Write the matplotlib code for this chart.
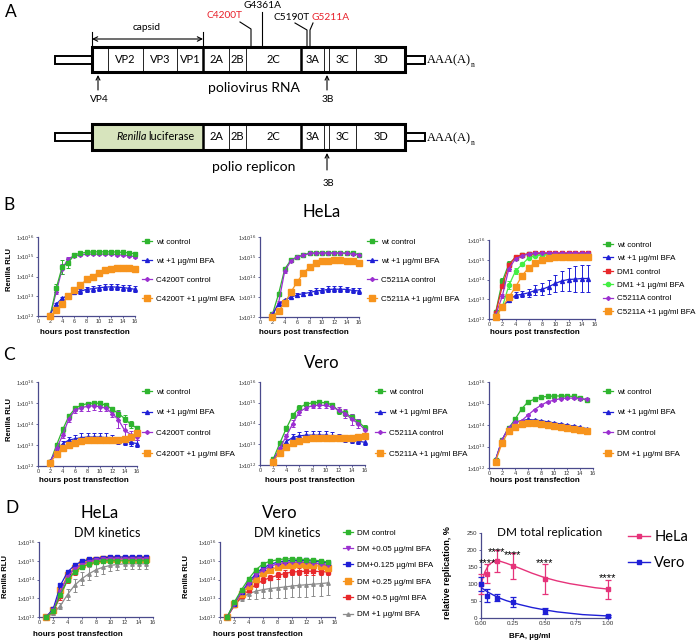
import numpy as np
import matplotlib.pyplot as plt
from matplotlib.patches import Rectangle
from matplotlib.lines import Line2D
from matplotlib.ticker import NullLocator

plt.rcParams['font.family'] = ['Liberation Sans', 'DejaVu Sans']
CAL = 'Lato'

W, H = 696, 640
fig = plt.figure(figsize=(W / 100, H / 100), dpi=100)

# ---------------- data ----------------
# genome map (panel A)
virus_names = ['', 'VP2', 'VP3', 'VP1', '2A', '2B', '2C', '3A', '', '3C', '3D']
replicon_names = ['Renilla luciferase', '2A', '2B', '2C', '3A', '', '3C', '3D']
mutations = ['C4200T', 'G4361A', 'C5190T', 'G5211A']
mutation_colors = ['#e8202a', 'black', 'black', '#e8202a']

# hours post transfection
hours_a = [2, 3, 4, 5, 6, 7, 8, 9, 10, 11, 12, 13, 14, 15, 16]
hours_b = [1, 2, 3, 4, 5, 6, 7, 8, 9, 10, 11, 12, 13, 14, 15]
rlu_ticks = [12, 13, 14, 15, 16]

# values are log10(Renilla RLU), errors in decades
b1_wt = [12.0, 13.4, 14.5, 14.7, 15.1, 15.18, 15.22, 15.25, 15.25, 15.25, 15.25, 15.24, 15.22, 15.2, 15.15]
b1_wt_err = [0.02, 0.2, 0.35, 0.25, 0.1, 0.08, 0.08, 0.08, 0.08, 0.08, 0.08, 0.08, 0.08, 0.08, 0.1]
b1_wt_bfa = [12.1, 12.6, 12.9, 13.05, 13.2, 13.25, 13.35, 13.38, 13.43, 13.46, 13.48, 13.46, 13.44, 13.4, 13.35]
b1_wt_bfa_err = [0.02, 0.05, 0.07, 0.08, 0.1, 0.12, 0.13, 0.14, 0.15, 0.16, 0.16, 0.15, 0.15, 0.15, 0.15]
b1_mut = [12.0, 13.2, 14.4, 14.9, 15.05, 15.08, 15.13, 15.13, 15.13, 15.13, 15.13, 15.1, 15.08, 15.05, 15.0]
b1_mut_err = [0.02, 0.1, 0.25, 0.1, 0.06, 0.05, 0.05, 0.05, 0.05, 0.05, 0.05, 0.05, 0.05, 0.05, 0.06]
b1_mut_bfa = [12.0, 12.3, 12.6, 13.0, 13.3, 13.55, 13.85, 14.0, 14.2, 14.33, 14.4, 14.45, 14.44, 14.42, 14.38]
b1_mut_bfa_err = [0.02, 0.05, 0.06, 0.08, 0.1, 0.12, 0.15, 0.15, 0.15, 0.13, 0.12, 0.1, 0.1, 0.1, 0.1]

b2_wt = [12.13, 13.15, 14.4, 14.85, 15.0, 15.1, 15.2, 15.2, 15.2, 15.2, 15.2, 15.2, 15.2, 15.18, 15.12]
b2_wt_err = [0.02, 0.05, 0.08, 0.05, 0.05, 0.04, 0.04, 0.04, 0.04, 0.04, 0.04, 0.04, 0.04, 0.04, 0.05]
b2_wt_bfa = [12.1, 12.65, 12.85, 13.0, 13.1, 13.17, 13.22, 13.3, 13.33, 13.38, 13.39, 13.39, 13.38, 13.33, 13.3]
b2_wt_bfa_err = [0.02, 0.04, 0.05, 0.06, 0.08, 0.1, 0.12, 0.13, 0.14, 0.15, 0.15, 0.15, 0.14, 0.13, 0.13]
b2_mut = [12.13, 12.7, 14.3, 14.8, 15.0, 15.08, 15.18, 15.2, 15.2, 15.2, 15.2, 15.2, 15.18, 15.15, 15.12]
b2_mut_err = [0.02, 0.1, 0.12, 0.05, 0.04, 0.04, 0.04, 0.04, 0.04, 0.04, 0.04, 0.04, 0.04, 0.04, 0.04]
b2_mut_bfa = [12.0, 12.3, 12.7, 13.25, 13.75, 14.2, 14.5, 14.7, 14.8, 14.82, 14.85, 14.85, 14.82, 14.8, 14.72]
b2_mut_bfa_err = [0.02, 0.04, 0.05, 0.05, 0.05, 0.05, 0.05, 0.05, 0.05, 0.05, 0.05, 0.05, 0.05, 0.05, 0.05]

b3_wt = [12.33, 13.9, 14.8, 15.1, 15.25, 15.28, 15.3, 15.3, 15.3, 15.3, 15.3, 15.3, 15.3, 15.3, 15.3]
b3_wt_err = [0.05, 0.2, 0.15, 0.08, 0.05, 0.04, 0.04, 0.04, 0.04, 0.04, 0.04, 0.04, 0.04, 0.04, 0.04]
b3_wt_bfa = [12.17, 12.64, 12.94, 13.2, 13.25, 13.33, 13.45, 13.5, 13.63, 13.8, 13.93, 14.0, 14.02, 14.05, 14.05]
b3_wt_bfa_err = [0.05, 0.08, 0.1, 0.15, 0.15, 0.2, 0.25, 0.3, 0.35, 0.45, 0.5, 0.6, 0.65, 0.7, 0.7]
b3_dm = [12.3, 13.65, 14.72, 15.15, 15.25, 15.3, 15.32, 15.32, 15.32, 15.32, 15.32, 15.32, 15.32, 15.32, 15.32]
b3_dm_err = [0.05, 0.1, 0.1, 0.05, 0.04, 0.04, 0.04, 0.04, 0.04, 0.04, 0.04, 0.04, 0.04, 0.04, 0.04]
b3_dm_bfa = [12.2, 12.6, 13.7, 14.43, 14.77, 15.1, 15.2, 15.25, 15.25, 15.25, 15.25, 15.25, 15.25, 15.25, 15.25]
b3_dm_bfa_err = [0.05, 0.1, 0.2, 0.15, 0.1, 0.06, 0.05, 0.05, 0.05, 0.05, 0.05, 0.05, 0.05, 0.05, 0.05]
b3_mut = [12.2, 13.15, 14.55, 15.05, 15.2, 15.3, 15.35, 15.35, 15.35, 15.35, 15.35, 15.35, 15.35, 15.35, 15.35]
b3_mut_err = [0.05, 0.1, 0.1, 0.05, 0.04, 0.04, 0.04, 0.04, 0.04, 0.04, 0.04, 0.04, 0.04, 0.04, 0.04]
b3_mut_bfa = [12.1, 12.6, 13.1, 13.62, 14.2, 14.6, 14.85, 15.0, 15.1, 15.15, 15.15, 15.15, 15.15, 15.15, 15.15]
b3_mut_bfa_err = [0.05, 0.06, 0.08, 0.1, 0.1, 0.1, 0.1, 0.1, 0.1, 0.1, 0.1, 0.1, 0.1, 0.1, 0.1]

c1_wt = [12.2, 13.0, 13.74, 14.38, 14.74, 14.9, 14.97, 15.0, 14.98, 14.9, 14.7, 14.5, 14.26, 13.98, 13.8]
c1_wt_err = [0.05, 0.08, 0.1, 0.1, 0.1, 0.1, 0.1, 0.1, 0.1, 0.1, 0.12, 0.15, 0.15, 0.15, 0.12]
c1_wt_bfa = [12.25, 12.72, 13.07, 13.23, 13.3, 13.35, 13.38, 13.38, 13.38, 13.35, 13.3, 13.23, 13.15, 13.12, 13.07]
c1_wt_bfa_err = [0.03, 0.08, 0.12, 0.15, 0.18, 0.2, 0.2, 0.2, 0.2, 0.2, 0.18, 0.16, 0.15, 0.15, 0.15]
c1_mut = [12.2, 12.84, 13.47, 14.26, 14.66, 14.78, 14.84, 14.87, 14.82, 14.75, 14.5, 14.2, 13.7, 13.5, 13.4]
c1_mut_err = [0.05, 0.08, 0.12, 0.15, 0.15, 0.15, 0.2, 0.2, 0.2, 0.15, 0.15, 0.4, 0.3, 0.15, 0.15]
c1_mut_bfa = [12.15, 12.57, 12.84, 13.0, 13.1, 13.18, 13.23, 13.23, 13.23, 13.23, 13.23, 13.25, 13.3, 13.4, 13.57]
c1_mut_bfa_err = [0.05, 0.05, 0.05, 0.06, 0.06, 0.06, 0.06, 0.06, 0.06, 0.06, 0.06, 0.06, 0.06, 0.06, 0.08]

c2_wt = [12.27, 13.04, 13.76, 14.4, 14.77, 14.93, 15.0, 15.02, 15.0, 14.9, 14.6, 14.5, 14.3, 14.08, 13.8]
c2_wt_err = [0.05, 0.08, 0.12, 0.12, 0.1, 0.08, 0.08, 0.08, 0.08, 0.08, 0.12, 0.15, 0.15, 0.12, 0.12]
c2_wt_bfa = [12.2, 12.75, 13.12, 13.33, 13.4, 13.44, 13.44, 13.44, 13.44, 13.4, 13.35, 13.28, 13.2, 13.15, 13.09]
c2_wt_bfa_err = [0.03, 0.08, 0.12, 0.15, 0.18, 0.2, 0.2, 0.2, 0.2, 0.18, 0.16, 0.15, 0.15, 0.15, 0.15]
c2_mut = [12.2, 12.8, 13.39, 14.0, 14.56, 14.75, 14.86, 14.88, 14.87, 14.8, 14.64, 14.48, 14.2, 14.0, 13.7]
c2_mut_err = [0.05, 0.08, 0.12, 0.15, 0.15, 0.12, 0.12, 0.12, 0.12, 0.12, 0.15, 0.2, 0.25, 0.2, 0.15]
c2_mut_bfa = [12.16, 12.6, 12.88, 13.04, 13.17, 13.26, 13.31, 13.31, 13.31, 13.31, 13.31, 13.32, 13.32, 13.35, 13.39]
c2_mut_bfa_err = [0.05, 0.05, 0.05, 0.06, 0.06, 0.06, 0.06, 0.06, 0.06, 0.06, 0.06, 0.06, 0.06, 0.06, 0.08]

c3_wt = [12.35, 13.3, 13.85, 14.26, 14.74, 15.08, 15.2, 15.3, 15.33, 15.35, 15.35, 15.34, 15.33, 15.26, 15.15]
c3_wt_err = [0.03, 0.03, 0.03, 0.04, 0.04, 0.04, 0.04, 0.04, 0.04, 0.04, 0.04, 0.04, 0.04, 0.04, 0.05]
c3_wt_bfa = [12.38, 13.3, 13.88, 14.1, 14.2, 14.26, 14.23, 14.2, 14.15, 14.1, 14.05, 14.0, 13.95, 13.9, 13.83]
c3_wt_bfa_err = [0.03, 0.03, 0.03, 0.03, 0.03, 0.03, 0.03, 0.03, 0.03, 0.03, 0.03, 0.03, 0.03, 0.03, 0.03]
c3_dm = [12.35, 13.3, 13.85, 14.15, 14.2, 14.46, 14.72, 14.92, 15.08, 15.15, 15.23, 15.25, 15.25, 15.23, 15.2]
c3_dm_err = [0.03, 0.03, 0.03, 0.04, 0.04, 0.04, 0.04, 0.04, 0.04, 0.04, 0.04, 0.04, 0.04, 0.04, 0.05]
c3_dm_bfa = [12.3, 13.15, 13.7, 13.92, 14.05, 14.1, 14.1, 14.05, 14.0, 13.96, 13.9, 13.86, 13.82, 13.78, 13.7]
c3_dm_bfa_err = [0.06, 0.05, 0.05, 0.05, 0.05, 0.05, 0.05, 0.05, 0.05, 0.05, 0.05, 0.05, 0.05, 0.05, 0.05]

d1_ctrl = [12.0, 12.3, 13.2, 13.95, 14.4, 14.66, 14.82, 14.92, 15.0, 15.0, 15.0, 15.0, 15.0, 15.0, 15.0]
d1_ctrl_err = [0.02, 0.05, 0.1, 0.1, 0.1, 0.1, 0.1, 0.1, 0.1, 0.1, 0.1, 0.1, 0.1, 0.1, 0.1]
d1_005 = [12.0, 12.35, 13.35, 14.15, 14.58, 14.8, 14.95, 15.03, 15.08, 15.1, 15.1, 15.1, 15.1, 15.1, 15.08]
d1_005_err = [0.02, 0.05, 0.1, 0.1, 0.08, 0.06, 0.06, 0.06, 0.06, 0.06, 0.06, 0.06, 0.06, 0.06, 0.06]
d1_0125 = [12.0, 12.44, 13.69, 14.4, 14.76, 14.97, 15.07, 15.12, 15.16, 15.2, 15.2, 15.2, 15.2, 15.2, 15.18]
d1_0125_err = [0.02, 0.05, 0.08, 0.08, 0.06, 0.05, 0.05, 0.05, 0.05, 0.05, 0.05, 0.05, 0.05, 0.05, 0.05]
d1_025 = [12.0, 12.4, 13.42, 14.22, 14.63, 14.84, 14.98, 15.05, 15.1, 15.12, 15.12, 15.12, 15.12, 15.12, 15.1]
d1_025_err = [0.02, 0.05, 0.1, 0.1, 0.08, 0.06, 0.06, 0.06, 0.06, 0.06, 0.06, 0.06, 0.06, 0.06, 0.06]
d1_05 = [12.0, 12.3, 13.1, 14.0, 14.4, 14.7, 14.88, 14.98, 15.05, 15.1, 15.1, 15.1, 15.1, 15.1, 15.08]
d1_05_err = [0.02, 0.08, 0.2, 0.2, 0.15, 0.12, 0.1, 0.1, 0.1, 0.1, 0.1, 0.1, 0.1, 0.1, 0.1]
d1_1 = [11.98, 12.2, 12.6, 13.2, 13.69, 14.04, 14.3, 14.52, 14.66, 14.75, 14.8, 14.84, 14.84, 14.84, 14.84]
d1_1_err = [0.05, 0.1, 0.15, 0.3, 0.35, 0.35, 0.35, 0.35, 0.35, 0.3, 0.3, 0.3, 0.3, 0.3, 0.3]

d2_ctrl = [12.0, 12.8, 13.46, 14.04, 14.52, 14.84, 14.98, 15.05, 15.1, 15.1, 15.08, 15.06, 15.03, 15.0, 14.93]
d2_ctrl_err = [0.02, 0.04, 0.05, 0.05, 0.05, 0.05, 0.05, 0.05, 0.05, 0.05, 0.05, 0.05, 0.05, 0.05, 0.05]
d2_005 = [12.0, 12.72, 13.33, 13.78, 14.22, 14.52, 14.7, 14.84, 14.9, 14.93, 14.93, 14.92, 14.88, 14.82, 14.76]
d2_005_err = [0.02, 0.04, 0.06, 0.08, 0.08, 0.08, 0.08, 0.08, 0.08, 0.08, 0.08, 0.08, 0.08, 0.08, 0.08]
d2_0125 = [12.0, 12.72, 13.33, 13.87, 14.31, 14.63, 14.8, 14.93, 14.98, 15.02, 15.02, 15.02, 14.98, 14.93, 14.88]
d2_0125_err = [0.02, 0.04, 0.06, 0.06, 0.06, 0.06, 0.06, 0.06, 0.06, 0.06, 0.06, 0.06, 0.06, 0.06, 0.06]
d2_025 = [12.0, 12.68, 13.24, 13.64, 14.04, 14.35, 14.52, 14.66, 14.76, 14.8, 14.82, 14.8, 14.76, 14.7, 14.63]
d2_025_err = [0.02, 0.05, 0.08, 0.1, 0.1, 0.1, 0.1, 0.1, 0.1, 0.1, 0.1, 0.1, 0.1, 0.1, 0.1]
d2_05 = [12.0, 12.62, 13.1, 13.42, 13.74, 13.96, 14.1, 14.22, 14.31, 14.4, 14.42, 14.44, 14.44, 14.42, 14.4]
d2_05_err = [0.02, 0.05, 0.1, 0.12, 0.15, 0.15, 0.15, 0.18, 0.18, 0.18, 0.18, 0.18, 0.18, 0.18, 0.18]
d2_1 = [12.0, 12.62, 13.03, 13.24, 13.38, 13.46, 13.52, 13.56, 13.6, 13.65, 13.69, 13.72, 13.75, 13.78, 13.82]
d2_1_err = [0.05, 0.1, 0.2, 0.3, 0.4, 0.45, 0.5, 0.55, 0.58, 0.6, 0.62, 0.63, 0.64, 0.65, 0.66]

# DM total replication (panel D, right)
bfa_dose = [0, 0.05, 0.125, 0.25, 0.5, 1.0]
hela_rep = [100, 130, 167, 152, 116, 85]
hela_rep_err = [28, 28, 33, 38, 44, 28]
vero_rep = [100, 66, 60, 48, 20, 6]
vero_rep_err = [20, 20, 10, 15, 8, 3]
fit_dose = [0, 0.03, 0.06, 0.1, 0.15, 0.2, 0.3, 0.4, 0.5, 0.6, 0.7, 0.8, 0.9, 1.0]
hela_fit = [100, 135, 156, 167, 167, 161, 147, 132, 119, 109, 101, 95, 89, 85]
vero_fit = [90, 82, 75, 67, 58, 51, 40, 31, 24, 18, 14, 10, 8, 6]
signif_dose = [0.05, 0.125, 0.25, 0.5, 1.0]
signif_level = [171, 203, 196, 171, 126]

# colours
GREEN = '#2fb52f'
BLUE = '#1f1fd6'
PURPLE = '#9b30d0'
ORANGE = '#f7941d'
RED = '#e8282b'
LGREEN = '#44ee44'
GRAY = '#8c8c8c'
PINK = '#e6337a'
AXC = '#4a4a8c'

# ---------------- drawing canvas for the diagram and labels ----------------
dax = fig.add_axes([0, 0, 1, 1])
dax.set_xlim(0, W)
dax.set_ylim(H, 0)
dax.axis('off')


def genome(top, bot, bounds, names, thick, fill=None):
    mid = (top + bot) / 2
    for x0, x1 in [(55, bounds[0]), (bounds[-1], 425)]:
        dax.add_patch(Rectangle((x0, mid - 4), x1 - x0, 8, fc='white', ec='black', lw=1.4, zorder=1))
    dax.add_patch(Rectangle((bounds[0], top), bounds[-1] - bounds[0], bot - top, fc='white', ec='none', zorder=2))
    if fill:
        dax.add_patch(Rectangle((bounds[0], top), bounds[1] - bounds[0], bot - top, fc=fill, ec='none', zorder=2))
    for b in bounds[1:-1]:
        dax.plot([b, b], [top, bot], color='black', lw=1.8 if b in thick else 0.6, zorder=3)
    dax.add_patch(Rectangle((bounds[0], top), bounds[-1] - bounds[0], bot - top, fc='none', ec='black', lw=2.2, zorder=4))
    for i, name in enumerate(names):
        cx = (bounds[i] + bounds[i + 1]) / 2
        if name == 'Renilla luciferase':
            dax.text(cx - 1, mid, 'Renilla', style='italic', family=CAL, fontsize=7.8, ha='right', va='center', zorder=5)
            dax.text(cx + 1, mid, 'luciferase', family=CAL, fontsize=7.8, ha='left', va='center', zorder=5)
        elif name:
            dax.text(cx, mid, name, family=CAL, fontsize=8, ha='center', va='center', zorder=5)
    t = dax.text(427, mid + 1, 'AAA(A)', family='Liberation Serif', fontsize=9, ha='left', va='center')
    dax.annotate('n', xy=(1.0, 0.12), xycoords=t, family='Liberation Serif', fontsize=5.5, ha='left', va='center')


genome(47, 72, [92, 108, 143, 177, 203, 229, 246, 301, 324, 329, 356, 405], virus_names, (203, 301))
genome(124, 150, [92, 203, 229, 246, 301, 324, 329, 356, 405], replicon_names, (203, 301), fill='#d7e4bd')

# capsid arrow
dax.annotate('', xy=(92, 39), xytext=(203, 39),
             arrowprops=dict(arrowstyle='<->', lw=0.8, shrinkA=0, shrinkB=0, mutation_scale=8))
dax.plot([92, 92], [32, 47], color='black', lw=0.8)
dax.plot([203, 203], [32, 47], color='black', lw=0.8)
dax.text(147, 28, 'capsid', family=CAL, fontsize=7.3, ha='center', va='center')

# small arrows under the map
for x, y0, y1, lab, ly, fs in [(98, 90, 75, 'VP4', 100, 7.3), (327, 90, 75, '3B', 100, 7.3),
                              (327, 170, 153, '3B', 183, 6.8)]:
    dax.annotate('', xy=(x, y1), xytext=(x, y0),
                 arrowprops=dict(arrowstyle='->', lw=0.8, shrinkA=0, shrinkB=0, mutation_scale=7))
    dax.text(x + 1, ly, lab, family=CAL, fontsize=fs, ha='center', va='center')

dax.text(254, 88, 'poliovirus RNA', family=CAL, fontsize=10, ha='center', va='center')
dax.text(254, 167, 'polio replicon', family=CAL, fontsize=10, ha='center', va='center')

# mutation labels
mut_text_xy = [(224, 16), (263, 6), (292, 18), (331, 18)]
mut_paths = [([240, 251, 251], [22, 29, 47]), ([262, 262], [12, 47]),
             ([295, 307, 307], [23, 30, 47]), ([313, 310, 310], [23, 30, 47])]
for name, col, (tx, ty), (px, py) in zip(mutations, mutation_colors, mut_text_xy, mut_paths):
    dax.text(tx, ty, name, family=CAL, fontsize=7.3, color=col, ha='center', va='center')
    dax.plot(px, py, color='black', lw=0.8)

# panel letters and titles
for lab, x, y in [('A', 5, 12), ('B', 3, 205), ('C', 3, 355), ('D', 5, 508)]:
    dax.text(x, y, lab, family=CAL, fontsize=12.5, ha='left', va='center')
for lab, x, y, fs in [('HeLa', 322, 212, 12), ('Vero', 322, 363, 12),
                      ('HeLa', 100, 513, 12), ('DM kinetics', 107, 533, 9),
                      ('Vero', 280, 513, 12), ('DM kinetics', 287, 533, 9)]:
    dax.text(x, y, lab, family=CAL, fontsize=fs, ha='center', va='center')


# ---------------- charts ----------------
def add_ax(box):
    x0, x1, y0, y1 = box
    return fig.add_axes([x0 / W, 1 - y1 / H, (x1 - x0) / W, (y1 - y0) / H])


def to_axes(box, px, py):
    x0, x1, y0, y1 = box
    return (px - x0) / (x1 - x0), (y1 - py) / (y1 - y0)


def style_axes(ax):
    for s in ('top', 'right'):
        ax.spines[s].set_visible(False)
    for s in ('left', 'bottom'):
        ax.spines[s].set_color(AXC)
        ax.spines[s].set_linewidth(0.9)
    ax.tick_params(length=1.5, width=0.6, color=AXC, labelsize=4, pad=1, labelcolor='#333333')


def legend(ax, series, x, ytop, spacing, fs=5.8, hl=1.3, family=None):
    handles = [Line2D([], [], color=s[3], marker=s[4], ms=s[5], lw=0.9) for s in series]
    leg = ax.legend(handles, [s[0] for s in series], loc='upper left',
                    bbox_to_anchor=(x / W, 1 - ytop / H), bbox_transform=fig.transFigure,
                    frameon=False, fontsize=fs, labelspacing=spacing, handlelength=hl,
                    handletextpad=0.4, borderpad=0, borderaxespad=0)
    if family:
        for t in leg.get_texts():
            t.set_family(family)


def kinetics(box, hours, series, xlab, ylab=None):
    ax = add_ax(box)
    for label, vals, errs, color, marker, ms in series:
        v = np.array(vals)
        e = np.array(errs)
        y = 10.0 ** v
        ax.errorbar(hours, y, yerr=[y - 10.0 ** (v - e), 10.0 ** (v + e) - y], color=color,
                    marker=marker, ms=ms, lw=0.9, elinewidth=0.7, capsize=1.3, capthick=0.7,
                    clip_on=False, zorder=3)
    ax.set_yscale('log')
    ax.set_ylim(1e12, 1e16)
    ax.set_yticks([10.0 ** k for k in rlu_ticks])
    ax.set_yticklabels(['1x10$^{%d}$' % k for k in rlu_ticks])
    ax.yaxis.set_minor_locator(NullLocator())
    ax.set_xlim(0, 16)
    ax.set_xticks([0, 2, 4, 6, 8, 10, 12, 14, 16])
    style_axes(ax)
    ax.set_xlabel('hours post transfection', fontsize=5.8, fontweight='bold')
    ax.xaxis.set_label_coords(*to_axes(box, *xlab))
    ax.xaxis.label.set_va('center')
    if ylab:
        ax.set_ylabel('Renilla RLU', fontsize=5.5, fontweight='bold')
        ax.yaxis.set_label_coords(*to_axes(box, *ylab))
        ax.yaxis.label.set_va('center')
    return ax


def std4(mut, wt, wt_bfa, m, m_bfa):
    return [('wt control', wt[0], wt[1], GREEN, 's', 2.5),
            ('wt +1 \u00b5g/ml BFA', wt_bfa[0], wt_bfa[1], BLUE, '^', 2.8),
            (mut + ' control', m[0], m[1], PURPLE, 'D', 2.0),
            (mut + ' +1 \u00b5g/ml BFA', m_bfa[0], m_bfa[1], ORANGE, 's', 3.8)]


# B
box = (38, 135, 237, 316)
s = std4('C4200T', (b1_wt, b1_wt_err), (b1_wt_bfa, b1_wt_bfa_err), (b1_mut, b1_mut_err), (b1_mut_bfa, b1_mut_bfa_err))
ax = kinetics(box, hours_a, [s[2], s[0], s[1], s[3]], (85, 332), (10, 270))
legend(ax, s, 142, 238, 1.42)

box = (260, 359, 237, 317)
s = std4('C5211A', (b2_wt, b2_wt_err), (b2_wt_bfa, b2_wt_bfa_err), (b2_mut, b2_mut_err), (b2_mut_bfa, b2_mut_bfa_err))
ax = kinetics(box, hours_a, [s[0], s[2], s[1], s[3]], (304, 332))
legend(ax, s, 367, 238, 1.42)

box = (489, 595, 240, 319)
s = [('wt control', b3_wt, b3_wt_err, GREEN, 's', 2.5),
     ('wt +1 \u00b5g/ml BFA', b3_wt_bfa, b3_wt_bfa_err, BLUE, '^', 2.8),
     ('DM1 control', b3_dm, b3_dm_err, RED, 's', 2.5),
     ('DM1 +1 \u00b5g/ml BFA', b3_dm_bfa, b3_dm_bfa_err, LGREEN, 'o', 3.0),
     ('C5211A control', b3_mut, b3_mut_err, PURPLE, 'D', 2.0),
     ('C5211A +1 \u00b5g/ml BFA', b3_mut_bfa, b3_mut_bfa_err, ORANGE, 's', 3.8)]
ax = kinetics(box, hours_b, s, (535, 332))
legend(ax, s, 603, 241, 0.72)

# C
box = (38, 137, 382, 466)
s = std4('C4200T', (c1_wt, c1_wt_err), (c1_wt_bfa, c1_wt_bfa_err), (c1_mut, c1_mut_err), (c1_mut_bfa, c1_mut_bfa_err))
ax = kinetics(box, hours_a, s, (84, 481), (10, 420))
legend(ax, s, 142, 388, 1.62)

box = (260, 365, 382, 465)
s = std4('C5211A', (c2_wt, c2_wt_err), (c2_wt_bfa, c2_wt_bfa_err), (c2_mut, c2_mut_err), (c2_mut_bfa, c2_mut_bfa_err))
ax = kinetics(box, hours_a, s, (310, 481))
legend(ax, s, 375, 388, 1.62)

box = (489, 593, 382, 468)
s = std4('DM', (c3_wt, c3_wt_err), (c3_wt_bfa, c3_wt_bfa_err), (c3_dm, c3_dm_err), (c3_dm_bfa, c3_dm_bfa_err))
ax = kinetics(box, hours_b, s, (535, 481))
legend(ax, s, 603, 388, 1.62)

# D kinetics
d_series_1 = [('DM control', d1_ctrl, d1_ctrl_err, GREEN, 's', 2.5),
              ('DM +0.05 \u00b5g/ml BFA', d1_005, d1_005_err, PURPLE, 'v', 2.8),
              ('DM+0.125 \u00b5g/ml BFA', d1_0125, d1_0125_err, BLUE, 's', 2.5),
              ('DM +0.25 \u00b5g/ml BFA', d1_025, d1_025_err, ORANGE, 's', 3.8),
              ('DM +0.5 \u00b5g/ml BFA', d1_05, d1_05_err, RED, 's', 2.8),
              ('DM +1 \u00b5g/ml BFA', d1_1, d1_1_err, GRAY, '^', 2.5)]
d_series_2 = [('DM control', d2_ctrl, d2_ctrl_err, GREEN, 's', 2.5),
              ('DM +0.05 \u00b5g/ml BFA', d2_005, d2_005_err, PURPLE, 'v', 2.8),
              ('DM+0.125 \u00b5g/ml BFA', d2_0125, d2_0125_err, BLUE, 's', 2.5),
              ('DM +0.25 \u00b5g/ml BFA', d2_025, d2_025_err, ORANGE, 's', 3.8),
              ('DM +0.5 \u00b5g/ml BFA', d2_05, d2_05_err, RED, 's', 2.8),
              ('DM +1 \u00b5g/ml BFA', d2_1, d2_1_err, GRAY, '^', 2.5)]
kinetics((39, 153, 542, 617), hours_b, d_series_1[::-1], (78, 635), (6, 577))
ax = kinetics((220, 335, 542, 617), hours_b, d_series_2[::-1], (258, 635), (187, 577))
legend(ax, d_series_2, 343, 529, 1.08)

# D total replication
box = (481, 608, 533, 618)
ax = add_ax(box)
ax.plot(fit_dose, hela_fit, color=PINK, lw=1.0)
ax.plot(fit_dose, vero_fit, color=BLUE, lw=1.0)
ax.errorbar(bfa_dose, hela_rep, yerr=hela_rep_err, color=PINK, marker='s', ms=2.5, ls='none',
            elinewidth=0.9, capsize=2, capthick=0.9, clip_on=False, zorder=3)
ax.errorbar(bfa_dose, vero_rep, yerr=vero_rep_err, color=BLUE, marker='s', ms=3.5, ls='none',
            elinewidth=0.9, capsize=2, capthick=0.9, clip_on=False, zorder=3)
for xd, yl in zip(signif_dose, signif_level):
    ax.annotate('****', (xd, yl), xytext=(0, -4.5), textcoords='offset points',
                fontsize=8, ha='center', va='baseline', annotation_clip=False)
ax.set_xlim(0, 1.0)
ax.set_ylim(0, 250)
ax.set_xticks([0, 0.25, 0.5, 0.75, 1.0])
ax.set_xticklabels(['0.00', '0.25', '0.50', '0.75', '1.00'])
ax.set_yticks([0, 50, 100, 150, 200, 250])
style_axes(ax)
ax.tick_params(labelsize=4.5)
ax.text(*to_axes(box, 550, 532), 'DM total replication', transform=ax.transAxes,
        family=CAL, fontsize=8.5, ha='center', va='center')
ax.set_xlabel('BFA, \u00b5g/ml', fontsize=5.8, fontweight='bold')
ax.xaxis.set_label_coords(*to_axes(box, 530, 636))
ax.xaxis.label.set_va('center')
ax.set_ylabel('relative replication, %', fontsize=6.5, fontweight='bold')
ax.yaxis.set_label_coords(*to_axes(box, 448, 573))
ax.yaxis.label.set_va('center')
handles = [Line2D([], [], color=PINK, marker='s', ms=2.5, lw=1.0),
           Line2D([], [], color=BLUE, marker='s', ms=3.5, lw=1.0)]
leg = ax.legend(handles, ['HeLa', 'Vero'], loc='upper left', bbox_to_anchor=(628 / W, 1 - 530 / H),
                bbox_transform=fig.transFigure, frameon=False, fontsize=10.5, labelspacing=0.85,
                handlelength=1.5, handletextpad=0.3, borderpad=0, borderaxespad=0)
for t in leg.get_texts():
    t.set_family(CAL)

fig.savefig('out.png', dpi=100)
